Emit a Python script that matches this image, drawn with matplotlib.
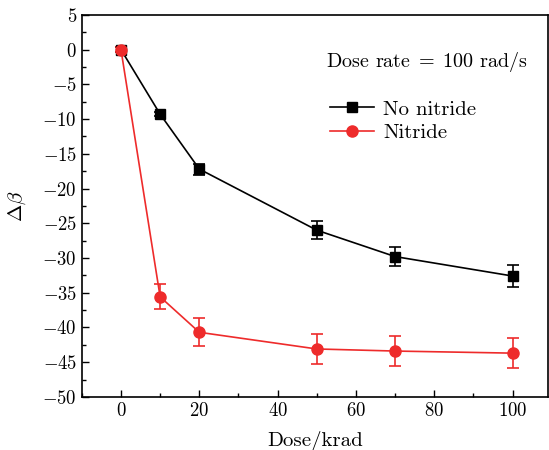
import matplotlib
matplotlib.use("Agg")
import matplotlib.pyplot as plt
from matplotlib.ticker import MultipleLocator

plt.rcParams['font.family'] = 'serif'
plt.rcParams['font.serif'] = ['cmr10']
plt.rcParams['mathtext.fontset'] = 'cm'
plt.rcParams['axes.formatter.use_mathtext'] = True

dose = [0, 10, 20, 50, 70, 100]
no_nitride = [0.0, -9.3, -17.2, -26.0, -29.8, -32.6]
no_nitride_err = [0.3, 0.3, 0.8, 1.3, 1.4, 1.6]
nitride = [0.0, -35.6, -40.7, -43.1, -43.4, -43.7]
nitride_err = [0.3, 1.8, 2.0, 2.1, 2.1, 2.2]

red = '#ee2b2b'

fig = plt.figure(figsize=(5.49, 4.5), dpi=100)
ax = fig.add_axes([0.149, 0.118, 0.849, 0.849])

# error bars first, lines+markers on top (legend shows plain line+marker)
ax.errorbar(dose, no_nitride, yerr=no_nitride_err, fmt='none', ecolor='black',
            capsize=4, elinewidth=1.2, capthick=1.2, zorder=2)
ax.errorbar(dose, nitride, yerr=nitride_err, fmt='none', ecolor=red,
            capsize=4, elinewidth=1.2, capthick=1.2, zorder=2)
ax.plot(dose, no_nitride, color='black', marker='s', markersize=7, lw=1.2,
        label='No nitride', zorder=3)
ax.plot(dose, nitride, color=red, marker='o', markersize=8, lw=1.2,
        label='Nitride', zorder=3)

ax.set_xlim(-10, 109)
ax.set_ylim(-50, 5)
ax.xaxis.set_major_locator(MultipleLocator(20))
ax.xaxis.set_minor_locator(MultipleLocator(10))
ax.yaxis.set_major_locator(MultipleLocator(5))
ax.yaxis.set_minor_locator(MultipleLocator(2.5))
ax.tick_params(which='both', direction='in', top=False, right=False, labelsize=13.5)
ax.tick_params(which='major', length=5, width=1)
ax.tick_params(which='minor', length=3, width=1)
for s in ax.spines.values():
    s.set_linewidth(1.2)

ax.set_xlabel('Dose/krad', fontsize=15, labelpad=8)
ax.set_ylabel(r'$\Delta\beta$', fontsize=15, labelpad=10)

ax.text(0.74, 0.877, r'Dose rate$\;=\;$100 rad/s', transform=ax.transAxes,
        ha='center', va='center', fontsize=14.5)
leg = ax.legend(loc='upper left', bbox_to_anchor=(0.532, 0.777), frameon=False,
                fontsize=15, handlelength=2.1, handletextpad=0.45,
                borderaxespad=0, borderpad=0, labelspacing=0.25)

fig.savefig('out.png', dpi=100)
